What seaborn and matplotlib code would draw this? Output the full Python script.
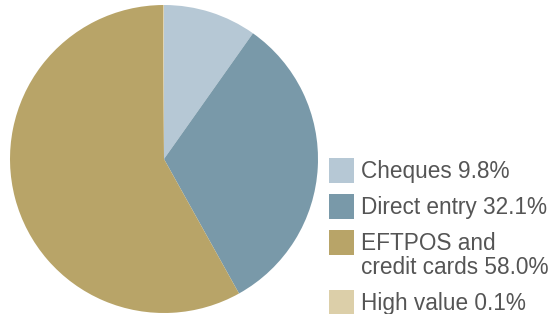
import matplotlib
matplotlib.use("Agg")
import matplotlib.pyplot as plt
import seaborn as sns
from matplotlib.patches import Rectangle

# Payment shares (per cent)
categories = ["Cheques", "Direct entry", "EFTPOS and\ncredit cards", "High value"]
shares = [9.8, 32.1, 58.0, 0.1]
colours = ["#b6c8d5", "#7999a9", "#b8a468", "#dccfa9"]

W, H = 551, 314

sns.set_style("white")
plt.rcParams["font.family"] = ["Liberation Sans", "DejaVu Sans"]

fig = plt.figure(figsize=(W / 100, H / 100), dpi=100)
ax = fig.add_axes([10 / W, 0, 308 / W, 308 / H])
ax.set_position([10 / W, (H - 313) / H, 308 / W, 308 / H])

ax.pie(shares, colors=colours, startangle=90, counterclock=False,
       wedgeprops=dict(linewidth=0))
ax.set_xlim(-1, 1)
ax.set_ylim(-1, 1)
ax.set_aspect("equal")
ax.axis("off")


def px(x, y):
    # pixel position (from top-left) -> figure fraction
    return x / W, 1 - y / H


# legend drawn by hand so the swatch lines up with the first line of text
row_top = 158
for cat, s, c in zip(categories, shares, colours):
    lines = f"{cat} {s:.1f}%".split("\n")
    x0, y0 = px(329, row_top + 25)
    fig.patches.append(Rectangle((x0, y0), 25 / W, 25 / H, facecolor=c,
                                 edgecolor="none", transform=fig.transFigure))
    for i, line in enumerate(lines):
        tx, ty = px(361, row_top + 20 + 24 * i)
        fig.text(tx, ty, line, fontsize=16.3, color="#555555",
                 ha="left", va="baseline")
    row_top += 36 + 24 * (len(lines) - 1)

fig.savefig("out.png", dpi=100)
